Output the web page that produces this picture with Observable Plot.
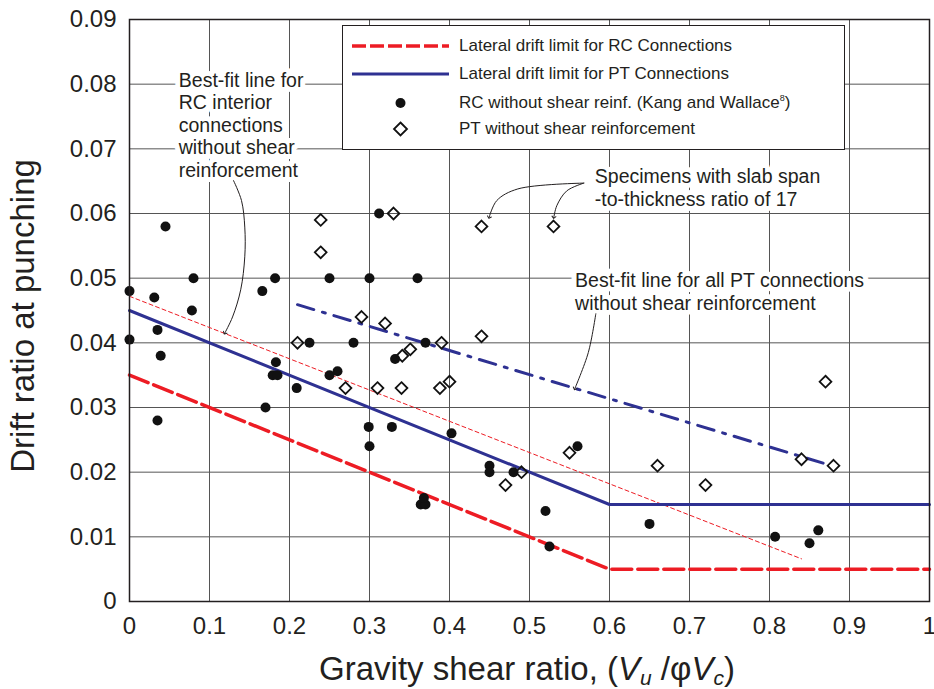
<!DOCTYPE html>
<html>
<head>
<meta charset="utf-8">
<script src="https://cdn.jsdelivr.net/npm/d3@7"></script>
<script src="https://cdn.jsdelivr.net/npm/@observablehq/plot@0.6"></script>
<style>
  html, body { margin: 0; padding: 0; background: #fff; }
  #wrap { position: relative; width: 934px; height: 689px; font-family: "Liberation Sans", Arial, Helvetica, sans-serif; color: #231f20; }
  #legend { position: absolute; left: 342px; top: 25px; width: 503px; height: 125px; border: 1.2px solid #231f20; background: #fff; box-sizing: border-box; }
  .lrow { position: absolute; left: 0; height: 24px; width: 100%; }
  .lrow svg { position: absolute; left: 9px; top: 0; }
  .lrow span { position: absolute; left: 116px; top: 2px; font-size: 17px; line-height: 20px; white-space: nowrap; }
  .lrow sup { font-size: 9px; vertical-align: 7px; line-height: 0; }
</style>
</head>
<body>
<div id="wrap"></div>
<script>
// ---------- data ----------
const xTicks = [0, 0.1, 0.2, 0.3, 0.4, 0.5, 0.6, 0.7, 0.8, 0.9, 1];
const yTicks = [0, 0.01, 0.02, 0.03, 0.04, 0.05, 0.06, 0.07, 0.08, 0.09];

// RC without shear reinforcement (filled circles)
const rcX = [0.000, 0.000, 0.045, 0.031, 0.035, 0.039, 0.035, 0.080, 0.078, 0.166, 0.182,
             0.170, 0.183, 0.179, 0.185, 0.209, 0.225, 0.250, 0.250, 0.260, 0.280, 0.300,
             0.312, 0.299, 0.300, 0.328, 0.332, 0.360, 0.370, 0.364, 0.370, 0.368, 0.4025,
             0.450, 0.450, 0.480, 0.520, 0.525, 0.560, 0.650, 0.807, 0.850, 0.861];
const rcY = [0.048, 0.0405, 0.058, 0.047, 0.042, 0.038, 0.028, 0.050, 0.045, 0.048, 0.050,
             0.030, 0.037, 0.035, 0.035, 0.033, 0.040, 0.050, 0.035, 0.0356, 0.040, 0.050,
             0.060, 0.027, 0.024, 0.027, 0.0375, 0.050, 0.040, 0.015, 0.015, 0.016, 0.026,
             0.021, 0.020, 0.020, 0.014, 0.0085, 0.024, 0.012, 0.010, 0.009, 0.011];

// PT without shear reinforcement (open diamonds)
const ptX = [0.239, 0.239, 0.330, 0.290, 0.3195, 0.210, 0.270, 0.310, 0.340, 0.341, 0.351,
             0.390, 0.388, 0.400, 0.440, 0.440, 0.530, 0.550, 0.470, 0.490, 0.660, 0.720,
             0.840, 0.880, 0.870];
const ptY = [0.059, 0.054, 0.060, 0.044, 0.043, 0.040, 0.033, 0.033, 0.033, 0.038, 0.039,
             0.040, 0.033, 0.034, 0.041, 0.058, 0.058, 0.023, 0.018, 0.020, 0.021, 0.018,
             0.022, 0.021, 0.034];

// Lines
const rcLimitX = [0, 0.6, 1];
const rcLimitY = [0.035, 0.005, 0.005];
const ptLimitX = [0, 0.6, 1];
const ptLimitY = [0.045, 0.015, 0.015];
const rcFitX = [0, 0.84];
const rcFitY = [0.0472, 0.0066];
const ptFitX = [0.21, 0.875];
const ptFitY = [0.0459, 0.0211];

// Legend labels
const legendLabels = [
  "Lateral drift limit for RC Connections",
  "Lateral drift limit for PT Connections",
  "RC without shear reinf. (Kang and Wallace<sup>8</sup>)",
  "PT without shear reinforcement"
];

// Annotations
const annoText = [
  {x: 0.0616, y: 0.0821, text: "Best-fit line for\nRC interior\nconnections\nwithout shear\nreinforcement"},
  {x: 0.5816, y: 0.0672, text: "Specimens with slab span\n-to-thickness ratio of 17"},
  {x: 0.557, y: 0.0511, text: "Best-fit line for all PT connections\nwithout shear reinforcement"}
];
// leader arrows (path points, data units)
const arrowRcX = [0.1300, 0.1400, 0.1441, 0.1441, 0.1390, 0.1288, 0.1191];
const arrowRcY = [0.0651, 0.0620, 0.0579, 0.0533, 0.0482, 0.0440, 0.0415];
const arrowSp1X = [0.5679, 0.4854, 0.4591, 0.4495];
const arrowSp1Y = [0.0647, 0.0638, 0.0620, 0.0594];
const arrowSp2X = [0.5679, 0.5466, 0.5341, 0.5304];
const arrowSp2Y = [0.0647, 0.0635, 0.0612, 0.0594];
const arrowPtX = [0.5829, 0.5735, 0.5566];
const arrowPtY = [0.0445, 0.0385, 0.0329];

// ---------- build tables ----------
const rc = rcX.map((x, i) => ({x, y: rcY[i]}));
const pt = ptX.map((x, i) => ({x, y: ptY[i]}));
const toLine = (xs, ys) => xs.map((x, i) => ({x, y: ys[i]}));

const RED = "#ed1c24", BLUE = "#2e3192", INK = "#231f20";
const leader = (xs, ys) => Plot.line(toLine(xs, ys), {x: "x", y: "y", curve: "catmull-rom", stroke: INK, strokeWidth: 1, markerEnd: "arrow"});

const chart = Plot.plot({
  width: 934,
  height: 689,
  marginLeft: 129,
  marginRight: 5,
  marginTop: 19,
  marginBottom: 88,
  style: {fontFamily: "'Liberation Sans', Arial, Helvetica, sans-serif", fontSize: "24px", color: INK, background: "#fff"},
  x: {domain: [0, 1], ticks: xTicks, tickFormat: d => d === 0 ? "0" : d === 1 ? "1" : d.toFixed(1), tickSize: 0, tickPadding: 15, label: null},
  y: {domain: [0, 0.09], ticks: yTicks, tickFormat: d => d === 0 ? "0" : d.toFixed(2), tickSize: 0, tickPadding: 13, label: null},
  marks: [
    Plot.ruleX(xTicks, {stroke: "#555", strokeWidth: 1}),
    Plot.ruleY(yTicks, {stroke: "#555", strokeWidth: 1}),
    Plot.line(toLine(rcFitX, rcFitY), {x: "x", y: "y", stroke: RED, strokeWidth: 1, strokeDasharray: "4,3"}),
    Plot.line(toLine(ptFitX, ptFitY), {x: "x", y: "y", stroke: BLUE, strokeWidth: 3, strokeDasharray: "17,9,3,9"}),
    Plot.line(toLine(ptLimitX, ptLimitY), {x: "x", y: "y", stroke: BLUE, strokeWidth: 3}),
    Plot.line(toLine(rcLimitX, rcLimitY), {x: "x", y: "y", stroke: RED, strokeWidth: 3.5, strokeDasharray: "20,6"}),
    Plot.dot(rc, {x: "x", y: "y", r: 5, fill: "#111", stroke: "none"}),
    Plot.dot(pt, {x: "x", y: "y", r: 5.3, symbol: "diamond2", fill: "none", stroke: "#111", strokeWidth: 1.8}),
    Plot.text(annoText, {x: "x", y: "y", text: "text", textAnchor: "start", lineAnchor: "top", fontSize: 19.5, lineHeight: 1.16, fill: INK, stroke: "white", strokeWidth: 10}),
    leader(arrowRcX, arrowRcY),
    leader(arrowSp1X, arrowSp1Y),
    leader(arrowSp2X, arrowSp2Y),
    leader(arrowPtX, arrowPtY),
    Plot.frame({stroke: INK, strokeWidth: 1.5})
  ]
});

const wrap = document.getElementById("wrap");
wrap.appendChild(chart);

// axis titles
const svg = d3.select(chart);
const xt = svg.append("text")
  .attr("x", 527).attr("y", 680)
  .attr("text-anchor", "middle")
  .attr("fill", INK)
  .style("font-size", "33px");
xt.append("tspan").text("Gravity shear ratio, (");
xt.append("tspan").attr("font-style", "italic").text("V");
xt.append("tspan").attr("font-size", "21px").attr("font-style", "italic").attr("dy", 5).text("u");
xt.append("tspan").attr("dy", -5).text(" /\u03c6");
xt.append("tspan").attr("font-style", "italic").text("V");
xt.append("tspan").attr("font-size", "21px").attr("font-style", "italic").attr("dy", 5).text("c");
xt.append("tspan").attr("dy", -5).text(")");

svg.append("text")
  .attr("transform", "translate(34,316) rotate(-90)")
  .attr("text-anchor", "middle")
  .attr("fill", INK)
  .style("font-size", "33px")
  .text("Drift ratio at punching");

// legend (inside the plotting area, top right)
const legend = document.createElement("div");
legend.id = "legend";
const swatches = [
  `<line x1="0" y1="12" x2="97" y2="12" stroke="${RED}" stroke-width="3.5" stroke-dasharray="14,4"/>`,
  `<line x1="0" y1="12" x2="97" y2="12" stroke="${BLUE}" stroke-width="3"/>`,
  `<circle cx="48.5" cy="12" r="5" fill="#111"/>`,
  `<path d="M48.5,5.5 L55,12 L48.5,18.5 L42,12 Z" fill="none" stroke="#111" stroke-width="1.8"/>`
];
const rowTops = [8, 36, 65, 91];
legendLabels.forEach((lab, i) => {
  const row = document.createElement("div");
  row.className = "lrow";
  row.style.top = rowTops[i] + "px";
  row.innerHTML = `<svg width="100" height="24">${swatches[i]}</svg><span>${lab}</span>`;
  legend.appendChild(row);
});
wrap.appendChild(legend);
</script>
</body>
</html>
